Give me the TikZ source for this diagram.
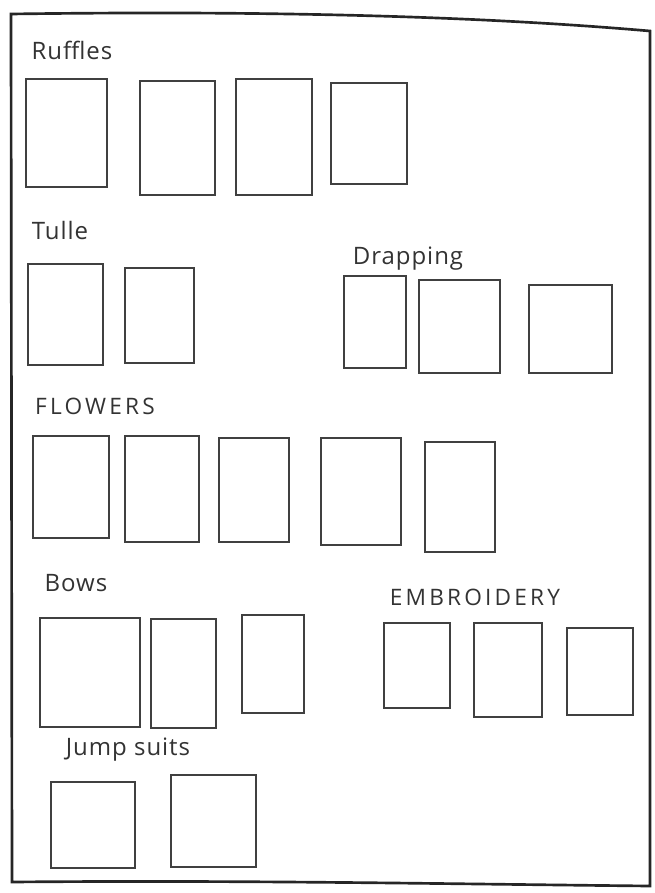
\documentclass[tikz,border=0pt]{standalone}
\usepackage{fontspec}
\setmainfont{Open Sans}
\usetikzlibrary{fit}
\tikzset{
  box/.style={draw=black!75, line width=1pt, inner sep=0pt, fit={#1}},
  lbl/.style={font=\fontsize{18}{20}\selectfont\addfontfeatures{LetterSpace=4}, text=black!80, inner sep=0pt},
  caps/.style={font=\fontsize{17}{20}\selectfont\addfontfeatures{LetterSpace=14}, text=black!80, inner sep=0pt},
  frame/.style={line width=2pt, draw=black!85}
}
\begin{document}
\begin{tikzpicture}[x=0.75pt,y=-0.75pt]
\useasboundingbox (0,0) rectangle (654,893);
% outer frame
\coordinate (tl) at (11,14);
\coordinate (tr) at (650,31);
\coordinate (br) at (650,886);
\coordinate (bl) at (12,882);
\draw[frame] (tl) .. controls (300,10) and (500,18) .. (tr) -- (br) .. controls (450,884) and (250,880) .. (bl) -- cycle;

% Ruffles
\node[lbl] (Lruf) at (72,50) {Ruffles};
\node[box={(26,79) (107,187)}] (ruf1) {};
\node[box={(140,81) (215,195)}] (ruf2) {};
\node[box={(236,79) (312,195)}] (ruf3) {};
\node[box={(331,83) (407,184)}] (ruf4) {};

% Tulle
\node[lbl] (Ltul) at (60,230) {Tulle};
\node[box={(28,264) (103,365)}] (tul1) {};
\node[box={(125,268) (194,363)}] (tul2) {};

% Drapping
\node[lbl] (Ldra) at (408,259) {Drapping};
\node[box={(344,276) (406,368)}] (dra1) {};
\node[box={(419,280) (500,373)}] (dra2) {};
\node[box={(529,285) (612,373)}] (dra3) {};

% Flowers
\node[caps] (Lflo) at (95,406) {FLOWERS};
\node[box={(33,436) (109,538)}] (flo1) {};
\node[box={(125,436) (199,542)}] (flo2) {};
\node[box={(219,438) (289,542)}] (flo3) {};
\node[box={(321,438) (401,545)}] (flo4) {};
\node[box={(425,442) (495,552)}] (flo5) {};

% Bows
\node[lbl] (Lbow) at (76,583) {Bows};
\node[box={(40,618) (140,727)}] (bow1) {};
\node[box={(151,619) (216,728)}] (bow2) {};
\node[box={(242,615) (304,713)}] (bow3) {};

% Embroidery
\node[caps] (Lemb) at (475,597) {EMBROIDERY};
\node[box={(384,623) (450,708)}] (emb1) {};
\node[box={(474,623) (542,717)}] (emb2) {};
\node[box={(567,628) (633,715)}] (emb3) {};

% Jump suits
\node[lbl] (Ljmp) at (128,750) {Jump suits};
\node[box={(51,782) (135,868)}] (jmp1) {};
\node[box={(171,775) (256,867)}] (jmp2) {};
\end{tikzpicture}
\end{document}
